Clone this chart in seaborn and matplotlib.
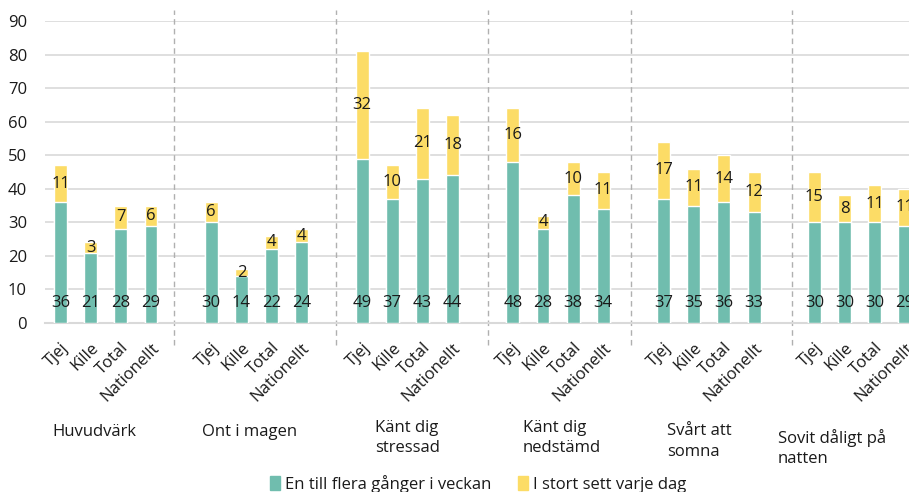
import matplotlib
matplotlib.use('Agg')
import matplotlib.pyplot as plt
from matplotlib.patches import Patch
import numpy as np
import pandas as pd
import seaborn as sns

# Data
groups = ['Huvudvärk', 'Ont i magen', 'Känt dig\nstressad', 'Känt dig\nnedstämd',
          'Svårt att\nsomna', 'Sovit dåligt på\nnatten']
subgroups = ['Tjej', 'Kille', 'Total', 'Nationellt']
weekly = [36, 21, 28, 29,
          30, 14, 22, 24,
          49, 37, 43, 44,
          48, 28, 38, 34,
          37, 35, 36, 33,
          30, 30, 30, 29]
daily = [11, 3, 7, 6,
         6, 2, 4, 4,
         32, 10, 21, 18,
         16, 4, 10, 11,
         17, 11, 14, 12,
         15, 8, 11, 11]
series_names = ['En till flera gånger i veckan', 'I stort sett varje dag']

TEAL = '#70bdae'
YELLOW = '#fcdc66'
GRID = '#d9d9d9'
TEXT = '#1a1a1a'

sns.set_style('white')
plt.rcParams['font.family'] = ['Open Sans', 'DejaVu Sans']

rows = []
for g, name in enumerate(groups):
    for s, sub in enumerate(subgroups):
        i = g * 4 + s
        rows.append({'pos': g * 5 + s, 'sub': sub, 'weekly': weekly[i],
                     'daily': daily[i], 'total': weekly[i] + daily[i]})
df = pd.DataFrame(rows)

fig = plt.figure(figsize=(9.09, 4.92), dpi=100)
ax = fig.add_axes([45 / 909, 169 / 492, 890 / 909, 302 / 492])

# stacked bars: total in yellow, weekly part in teal on top
sns.barplot(data=df, x='pos', y='total', native_scale=True, color=YELLOW,
            width=0.43, errorbar=None, saturation=1, ax=ax, zorder=3)
sns.barplot(data=df, x='pos', y='weekly', native_scale=True, color=TEAL,
            width=0.43, errorbar=None, saturation=1, ax=ax, zorder=3)

ax.set_xlim(-0.515, 29.0)
ax.set_ylim(0, 90)
ax.set_yticks(range(0, 91, 10))
ax.yaxis.grid(True, color=GRID, linewidth=1.2, zorder=0)
ax.set_axisbelow(True)
for side in ['left', 'right', 'top']:
    ax.spines[side].set_visible(False)
ax.spines['bottom'].set_color(GRID)
ax.spines['bottom'].set_linewidth(1.5)
ax.tick_params(axis='y', length=0, pad=13, labelsize=12, labelcolor=TEXT)
ax.tick_params(axis='x', length=0, pad=12, labelsize=12, labelcolor=TEXT)
ax.set_xlabel('')
ax.set_ylabel('')

ax.set_xticks(df['pos'])
ax.set_xticklabels(df['sub'], rotation=45, ha='right', va='top',
                   rotation_mode='anchor')

# value labels
for _, r in df.iterrows():
    ax.text(r['pos'], 6, str(r['weekly']), ha='center', va='center',
            fontsize=12, color=TEXT, zorder=4)
    ax.text(r['pos'], r['weekly'] + r['daily'] / 2, str(r['daily']),
            ha='center', va='center', fontsize=12, color=TEXT, zorder=4)

# dashed group separators
sep_x = [3.76, 9.13, 14.17, 18.92, 24.25]
for x in sep_x:
    ax.axvline(x, ymin=-0.073, ymax=1.036, color='#b0b0b0', linestyle=(0, (4, 3)),
               linewidth=1, clip_on=False, zorder=1)

# group labels (pixel layout from the reference)
label_pos = [(52, 432), (202, 432), (375, 438), (523, 438), (667, 441.5), (778, 448)]
for name, (px, py) in zip(groups, label_pos):
    fig.text(px / 909, 1 - py / 492, name, ha='left', va='center',
             fontsize=12, color=TEXT, linespacing=1.35)

handles = [Patch(color=TEAL), Patch(color=YELLOW)]
fig.legend(handles, series_names, loc='center', ncol=2,
           bbox_to_anchor=(478 / 909, 1 - 484 / 492), frameon=False,
           fontsize=12, handlelength=0.6, handleheight=0.9, handletextpad=0.3,
           columnspacing=1.6, labelcolor=TEXT)

fig.savefig('out.png', dpi=100)
